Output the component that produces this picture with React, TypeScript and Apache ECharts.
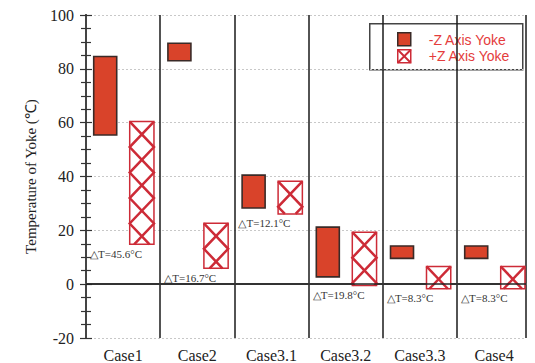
import React, { useEffect, useRef } from "react";
import * as echarts from "echarts";

// Case names along the bottom axis
const categories = ["Case1", "Case2", "Case3.1", "Case3.2", "Case3.3", "Case4"];
// -Z axis yoke temperature range (low, high) per case, in °C
const minusZLow = [55.4, 83.0, 28.3, 2.7, 9.6, 9.6];
const minusZHigh = [84.6, 89.5, 40.5, 21.2, 14.2, 14.2];
// +Z axis yoke temperature range (low, high) per case, in °C
const plusZLow = [14.8, 5.9, 26.1, -0.5, -1.7, -1.7];
const plusZHigh = [60.4, 22.6, 38.2, 19.3, 6.6, 6.6];
// Y axis range and ticks
const yTicks = { min: -20, max: 100, step: 20 };

const SOLID = "#d9432a";
const SOLID_EDGE = "#3a2a27";
const HATCH = "#cd2b37";
const LEGEND_TEXT = "#e43c3c";
const SERIF = "Liberation Serif";
const SANS = "Liberation Sans";
const X_MAX = 5.93;

// Zig-zag line bouncing between the two sides of a bar, clipped at its bottom
function hatchLines(L: number, R: number, T: number, B: number, startLeft: boolean) {
  const w = R - L;
  const step = w * 1.05;
  const pts: number[][] = [];
  let y = T;
  let atLeft = startLeft;
  pts.push([atLeft ? L : R, y]);
  while (y < B) {
    const ny = y + step;
    const fromX = atLeft ? L : R;
    const toX = atLeft ? R : L;
    if (ny >= B) {
      const t = (B - y) / step;
      pts.push([fromX + (toX - fromX) * t, B]);
      break;
    }
    pts.push([toX, ny]);
    y = ny;
    atLeft = !atLeft;
  }
  return pts;
}

export default function App() {
  const ref = useRef<HTMLDivElement>(null);

  useEffect(() => {
    if (!ref.current) return;
    const chart = echarts.init(ref.current, undefined, { renderer: "svg" });

    const solidData = categories.map((_, i) => [i, minusZLow[i], minusZHigh[i]]);
    const hatchData = categories.map((_, i) => [i, plusZLow[i], plusZHigh[i]]);

    const option: any = {
      animation: false,
      backgroundColor: "#ffffff",
      grid: { left: 86, right: 9, top: 15, bottom: 24, containLabel: false },
      xAxis: [
        {
          type: "value",
          position: "bottom",
          min: 0,
          max: X_MAX,
          interval: 0.5,
          axisLine: { show: true, lineStyle: { color: "#444", width: 2 } },
          axisTick: { show: false },
          splitLine: { show: false },
          axisLabel: {
            margin: 9,
            fontFamily: SERIF,
            fontSize: 16,
            color: "#222",
            showMinLabel: true,
            showMaxLabel: true,
            formatter: (v: number) => {
              const k = Math.floor(v);
              return Math.abs(v - k - 0.5) < 1e-6 && categories[k] ? categories[k] : "";
            },
          },
        },
        {
          type: "value",
          position: "top",
          min: 0,
          max: X_MAX,
          interval: 1,
          axisLine: { show: true, lineStyle: { color: "#666", width: 2 } },
          axisTick: { show: false },
          axisLabel: { show: false },
          splitLine: { show: true, lineStyle: { color: "#1a1a1a", width: 1.5, type: "solid" } },
        },
      ],
      yAxis: [
        {
          type: "value",
          position: "left",
          min: yTicks.min,
          max: yTicks.max,
          interval: yTicks.step,
          name: "Temperature of Yoke (℃)",
          nameLocation: "middle",
          nameRotate: 90,
          nameGap: 48,
          nameTextStyle: { fontFamily: SERIF, fontSize: 15, color: "#222" },
          axisLine: { show: true, lineStyle: { color: "#444", width: 2 } },
          axisTick: { show: true, inside: true, length: 6, lineStyle: { color: "#333", width: 1.2 } },
          minorTick: { show: true, splitNumber: 4, length: 5, lineStyle: { color: "#333", width: 1.2 } },
          axisLabel: { margin: 12, fontFamily: SERIF, fontSize: 16, color: "#222" },
          splitLine: { show: true, lineStyle: { color: "#c8c8c8", width: 1, type: [2, 2] } },
        },
        {
          type: "value",
          position: "right",
          min: yTicks.min,
          max: yTicks.max,
          interval: yTicks.step,
          axisLine: { show: true, lineStyle: { color: "#444", width: 2 } },
          axisTick: { show: true, inside: true, length: 6, lineStyle: { color: "#333", width: 1.2 } },
          minorTick: { show: true, splitNumber: 4, length: 5, lineStyle: { color: "#333", width: 1.2 } },
          axisLabel: { show: false },
          splitLine: { show: false },
        },
      ],
      series: [
        {
          name: "-Z Axis Yoke",
          type: "custom",
          xAxisIndex: 0,
          yAxisIndex: 0,
          encode: { x: 0, y: [1, 2] },
          data: solidData,
          renderItem: (_params: any, api: any) => {
            const i = api.value(0);
            const p0 = api.coord([i + 0.104, api.value(2)]);
            const p1 = api.coord([i + 0.414, api.value(1)]);
            return {
              type: "rect",
              shape: { x: p0[0], y: p0[1], width: p1[0] - p0[0], height: p1[1] - p0[1] },
              style: { fill: SOLID, stroke: SOLID_EDGE, lineWidth: 1.6 },
            };
          },
          markLine: {
            silent: true,
            symbol: "none",
            label: { show: false },
            lineStyle: { color: "#222", width: 1.5, type: "solid" },
            data: [{ yAxis: 0 }],
          },
          z: 3,
        },
        {
          name: "+Z Axis Yoke",
          type: "custom",
          xAxisIndex: 0,
          yAxisIndex: 0,
          encode: { x: 0, y: [1, 2] },
          data: hatchData,
          renderItem: (_params: any, api: any) => {
            const i = api.value(0);
            const lo = api.value(1);
            const hi = api.value(2);
            const p0 = api.coord([i + 0.589, hi]);
            const p1 = api.coord([i + 0.916, lo]);
            const L = p0[0], T = p0[1], R = p1[0], B = p1[1];
            const lab = api.coord([i + 0.055, lo]);
            return {
              type: "group",
              children: [
                {
                  type: "rect",
                  shape: { x: L, y: T, width: R - L, height: B - T },
                  style: { fill: "#ffffff", stroke: HATCH, lineWidth: 1.5 },
                },
                {
                  type: "polyline",
                  shape: { points: hatchLines(L, R, T, B, true) },
                  style: { stroke: HATCH, lineWidth: 2.5, fill: "none" },
                },
                {
                  type: "polyline",
                  shape: { points: hatchLines(L, R, T, B, false) },
                  style: { stroke: HATCH, lineWidth: 2.5, fill: "none" },
                },
                {
                  type: "text",
                  x: lab[0],
                  y: B + 4,
                  style: {
                    text: `△T=${(hi - lo).toFixed(1)}°C`,
                    fontFamily: SERIF,
                    fontSize: 11,
                    fill: "#333",
                    align: "left",
                    verticalAlign: "top",
                  },
                },
              ],
            };
          },
          z: 3,
        },
      ],
      graphic: [
        {
          type: "group",
          left: 369,
          top: 23,
          z: 10,
          children: [
            {
              type: "rect",
              shape: { x: 0, y: 0, width: 153, height: 46 },
              style: { fill: "#ffffff", stroke: "#444", lineWidth: 1.5 },
            },
            {
              type: "rect",
              shape: { x: 28, y: 9, width: 13, height: 13 },
              style: { fill: SOLID, stroke: SOLID_EDGE, lineWidth: 1.5 },
            },
            {
              type: "rect",
              shape: { x: 28, y: 26, width: 13, height: 13 },
              style: { fill: "#ffffff", stroke: HATCH, lineWidth: 1.5 },
            },
            {
              type: "line",
              shape: { x1: 28, y1: 26, x2: 41, y2: 39 },
              style: { stroke: HATCH, lineWidth: 2 },
            },
            {
              type: "line",
              shape: { x1: 41, y1: 26, x2: 28, y2: 39 },
              style: { stroke: HATCH, lineWidth: 2 },
            },
            {
              type: "text",
              x: 59,
              y: 16,
              style: {
                text: "-Z Axis Yoke",
                fontFamily: SANS,
                fontSize: 14,
                fill: LEGEND_TEXT,
                verticalAlign: "middle",
              },
            },
            {
              type: "text",
              x: 59,
              y: 32,
              style: {
                text: "+Z Axis Yoke",
                fontFamily: SANS,
                fontSize: 14,
                fill: LEGEND_TEXT,
                verticalAlign: "middle",
              },
            },
          ],
        },
      ],
    };

    chart.setOption(option);
    return () => chart.dispose();
  }, []);

  return <div ref={ref} style={{ width: 535, height: 363, position: "absolute", left: 0, top: 0 }} />;
}
